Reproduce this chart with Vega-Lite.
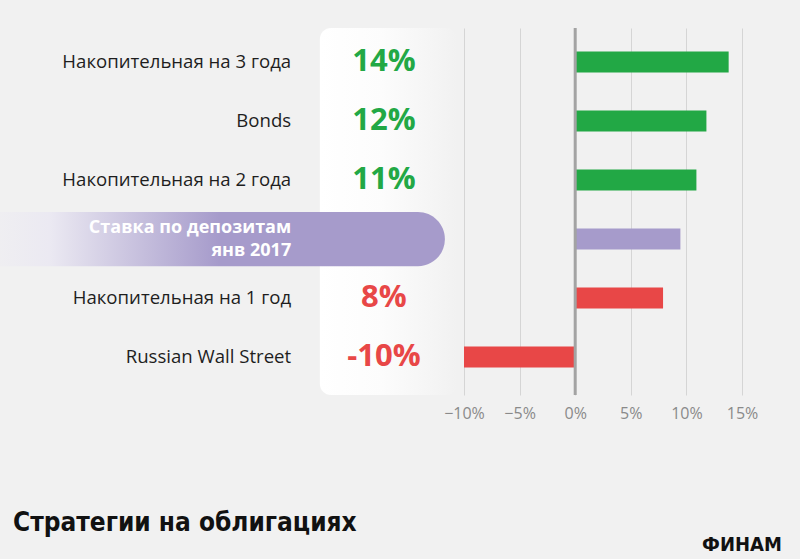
{
  "$schema": "https://vega.github.io/schema/vega-lite/v6.json",
  "width": 278,
  "height": 367,
  "autosize": {"type": "none"},
  "padding": {"left": 464, "top": 28, "right": 58, "bottom": 164},
  "background": "#f1f1f1",
  "config": {"view": {"stroke": null}, "font": "Open Sans"},
  "title": {
    "text": "Стратегии на облигациях",
    "orient": "bottom",
    "anchor": "start",
    "frame": "group",
    "dx": -451,
    "offset": -45,
    "baseline": "top",
    "font": "'DejaVu Sans Condensed', 'Roboto'",
    "fontSize": 26,
    "fontWeight": "bold",
    "color": "#111111"
  },
  "data": {
    "values": [
      {"name": "Накопительная на 3 года", "value": 13.8, "shown": "14%", "kind": "pos"},
      {"name": "Bonds", "value": 11.8, "shown": "12%", "kind": "pos"},
      {"name": "Накопительная на 2 года", "value": 10.9, "shown": "11%", "kind": "pos"},
      {"name": "Ставка по депозитам\nянв 2017", "value": 9.46, "shown": "9,46%", "kind": "highlight"},
      {"name": "Накопительная на 1 год", "value": 7.9, "shown": "8%", "kind": "neg8"},
      {"name": "Russian Wall Street", "value": -10, "shown": "-10%", "kind": "neg"}
    ]
  },
  "encoding": {
    "y": {
      "field": "name",
      "type": "nominal",
      "sort": null,
      "axis": null,
      "scale": {
        "domain": ["Накопительная на 3 года", "Bonds", "Накопительная на 2 года", "Ставка по депозитам\nянв 2017", "Накопительная на 1 год", "Russian Wall Street"],
        "paddingInner": 0, "paddingOuter": 0.11, "align": 0.35
      }
    }
  },
  "layer": [
    {
      "data": {"values": [{"panel": "values"}]},
      "mark": {
        "type": "rect",
        "cornerRadius": 11,
        "color": {
          "gradient": "linear",
          "x1": 0, "y1": 0, "x2": 1, "y2": 0,
          "stops": [
            {"offset": 0, "color": "#ffffff"},
            {"offset": 0.45, "color": "#fcfcfc"},
            {"offset": 1, "color": "#f1f1f1"}
          ]
        }
      },
      "encoding": {
        "x": {"datum": -22.96, "type": "quantitative"},
        "x2": {"datum": -10.6},
        "y": null
      }
    },
    {
      "transform": [{"filter": "datum.kind == 'highlight'"}],
      "mark": {
        "type": "bar",
        "height": {"band": 0.92},
        "cornerRadius": 27,
        "color": {
          "gradient": "linear",
          "x1": 0, "y1": 0, "x2": 1, "y2": 0,
          "stops": [
            {"offset": 0, "color": "#f1f1f1"},
            {"offset": 0.16, "color": "#ebe9f2"},
            {"offset": 0.52, "color": "#a69bcb"},
            {"offset": 1, "color": "#a69bcb"}
          ]
        }
      },
      "encoding": {
        "x": {"datum": -54, "type": "quantitative"},
        "x2": {"datum": -11.72}
      }
    },
    {
      "mark": {"type": "bar", "height": 21},
      "encoding": {
        "x": {
          "field": "value",
          "type": "quantitative",
          "scale": {"domain": [-10, 15], "nice": false, "zero": false},
          "axis": {
            "values": [-10, -5, 0, 5, 10, 15],
            "format": "d",
            "labelExpr": "datum.label + '%'",
            "title": null,
            "domain": false,
            "ticks": false,
            "grid": true,
            "gridColor": "#d5d5d5",
            "gridWidth": 1,
            "labelColor": "#8a8a8a",
            "labelFont": "Open Sans",
            "labelFontSize": 16,
            "labelPadding": 10,
            "labelFlush": false
          }
        },
        "color": {
          "field": "kind",
          "type": "nominal",
          "legend": null,
          "scale": {
            "domain": ["pos", "highlight", "neg8", "neg"],
            "range": ["#22a845", "#a69bcb", "#e84747", "#e84747"]
          }
        }
      }
    },
    {
      "data": {"values": [{"zero": 0}]},
      "mark": {"type": "rule", "color": "#a3a3a3", "strokeWidth": 3},
      "encoding": {
        "x": {"field": "zero", "type": "quantitative"},
        "y": null
      }
    },
    {
      "transform": [{"filter": "datum.kind != 'highlight'"}],
      "mark": {
        "type": "text",
        "align": "right",
        "baseline": "middle",
        "font": "Open Sans",
        "fontSize": 18.6,
        "color": "#1e1e1e"
      },
      "encoding": {
        "x": {"datum": -25.54, "type": "quantitative"},
        "text": {"field": "name"}
      }
    },
    {
      "transform": [{"filter": "datum.kind == 'highlight'"}],
      "mark": {
        "type": "text",
        "align": "right",
        "baseline": "middle",
        "lineBreak": "\n",
        "lineHeight": 23,
        "dy": -11.5,
        "font": "Open Sans",
        "fontSize": 18,
        "fontWeight": "bold",
        "color": "#ffffff"
      },
      "encoding": {
        "x": {"datum": -25.54, "type": "quantitative"},
        "text": {"field": "name"}
      }
    },
    {
      "mark": {
        "type": "text",
        "align": "center",
        "baseline": "middle",
        "font": "Open Sans",
        "fontSize": 31,
        "fontWeight": "bold"
      },
      "encoding": {
        "x": {"datum": -17.2, "type": "quantitative"},
        "text": {"field": "shown"},
        "color": {
          "field": "kind",
          "type": "nominal",
          "legend": null,
          "scale": {
            "domain": ["pos", "highlight", "neg8", "neg"],
            "range": ["#22a845", "#ffffff", "#e84747", "#e84747"]
          }
        }
      }
    },
    {
      "data": {"values": [{"logo": "ФИНАМ"}]},
      "mark": {
        "type": "text",
        "align": "center",
        "baseline": "middle",
        "dy": 333,
        "font": "'DejaVu Sans Condensed', 'Open Sans'",
        "fontSize": 20,
        "fontWeight": "bold",
        "color": "#111111"
      },
      "encoding": {
        "x": {"datum": 15, "type": "quantitative"},
        "y": null,
        "text": {"field": "logo"}
      }
    }
  ]
}
